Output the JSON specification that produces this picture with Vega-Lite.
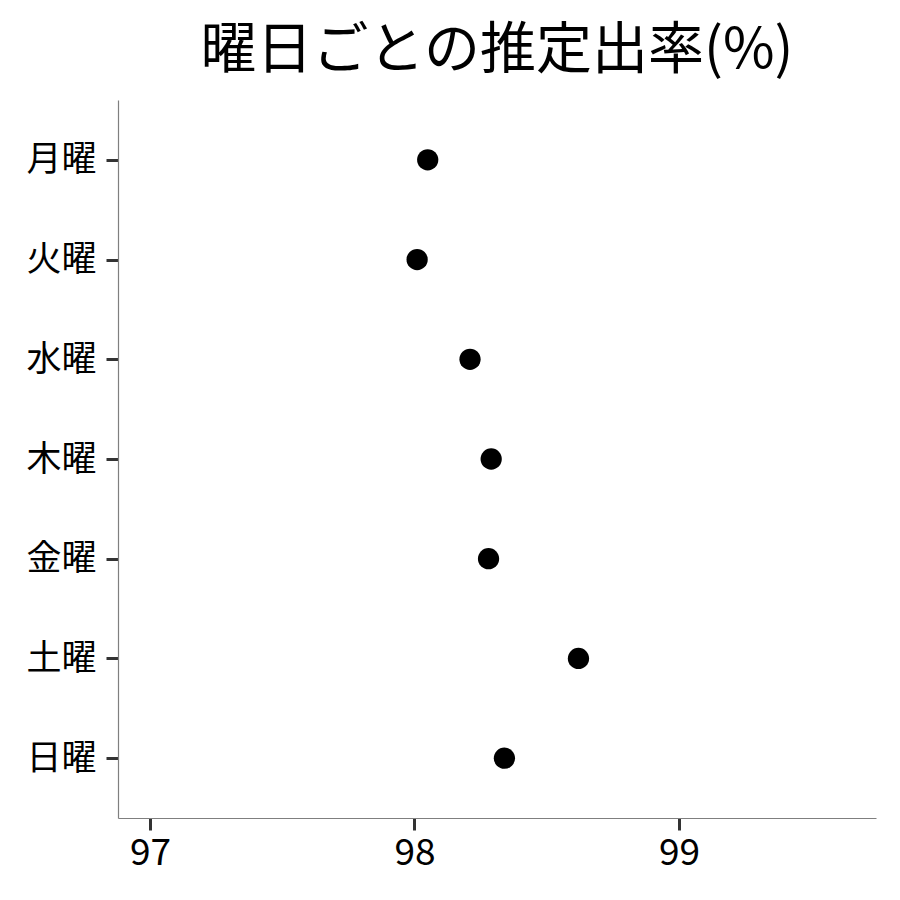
{
  "$schema": "https://vega.github.io/schema/vega-lite/v6.json",
  "autosize": "none",
  "width": 758,
  "height": 718,
  "padding": {"left": 118, "top": 100, "right": 24, "bottom": 82},
  "background": "white",
  "config": {
    "font": "Noto Sans CJK JP",
    "view": {"stroke": null}
  },
  "title": {
    "text": "曜日ごとの推定出率(%)",
    "fontSize": 56,
    "fontWeight": "normal",
    "color": "black",
    "anchor": "middle",
    "offset": 20
  },
  "data": {
    "values": [
      {"day": "月曜", "rate": 98.05},
      {"day": "火曜", "rate": 98.01},
      {"day": "水曜", "rate": 98.21},
      {"day": "木曜", "rate": 98.29},
      {"day": "金曜", "rate": 98.28},
      {"day": "土曜", "rate": 98.62},
      {"day": "日曜", "rate": 98.34}
    ]
  },
  "mark": {"type": "circle", "size": 452, "color": "black", "opacity": 1},
  "encoding": {
    "x": {
      "field": "rate",
      "type": "quantitative",
      "scale": {"domain": [96.879, 99.745], "nice": false, "zero": false},
      "axis": {
        "title": null,
        "values": [97, 98, 99],
        "grid": false,
        "domainColor": "#7f7f7f",
        "domainWidth": 1.2,
        "tickColor": "#333333",
        "tickWidth": 3,
        "tickSize": 12,
        "labelFontSize": 37,
        "labelColor": "black",
        "labelPadding": 5
      }
    },
    "y": {
      "field": "day",
      "type": "nominal",
      "sort": ["月曜", "火曜", "水曜", "木曜", "金曜", "土曜", "日曜"],
      "scale": {"type": "point", "padding": 0.6},
      "axis": {
        "title": null,
        "grid": false,
        "domainColor": "#7f7f7f",
        "domainWidth": 1.2,
        "tickColor": "#333333",
        "tickWidth": 3,
        "tickSize": 12,
        "labelFontSize": 35,
        "labelColor": "black",
        "labelPadding": 10
      }
    }
  }
}
